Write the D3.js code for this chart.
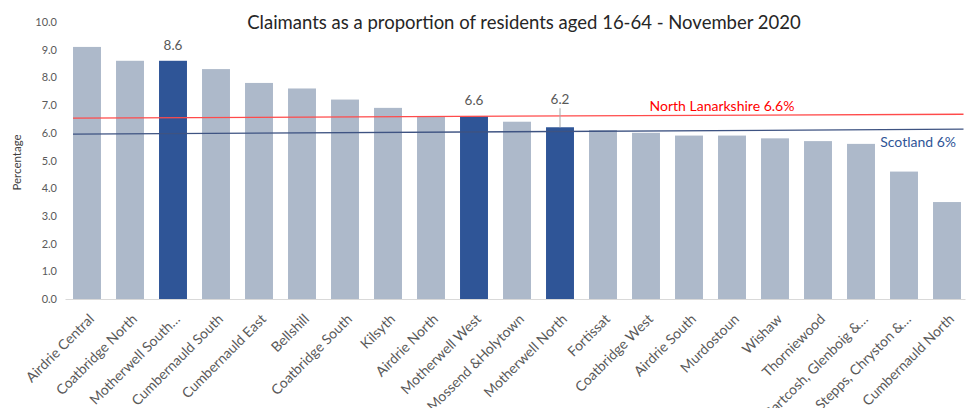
<!DOCTYPE html>
<html>
<head>
<meta charset="utf-8">
<script src="https://cdn.jsdelivr.net/npm/d3@7"></script>
<style>
  html, body { margin: 0; padding: 0; background: #fff; }
  svg { display: block; font-family: Lato, "Open Sans", sans-serif; }
</style>
</head>
<body>
<div id="chart"></div>
<script>
// 选区名称（与原图一致，含截断的标签）
const WARDS = [
  "Airdrie Central", "Coatbridge North", "Motherwell South…", "Cumbernauld South",
  "Cumbernauld East", "Bellshill", "Coatbridge South", "Kilsyth", "Airdrie North",
  "Motherwell West", "Mossend &Holytown", "Motherwell North", "Fortissat",
  "Coatbridge West", "Airdrie South", "Murdostoun", "Wishaw", "Thorniewood",
  "Gartcosh, Glenboig &…", "Stepps, Chryston &…", "Cumbernauld North",
];
// 申领人占 16-64 岁居民比例（%）
const RATES = [9.1, 8.6, 8.6, 8.3, 7.8, 7.6, 7.2, 6.9, 6.6, 6.6, 6.4, 6.2,
  6.1, 6.0, 5.9, 5.9, 5.8, 5.7, 5.6, 4.6, 3.5];
// 突出显示的选区
const HIGHLIGHT = ["Motherwell South…", "Motherwell West", "Motherwell North"];
// 参考线：起点 / 终点数值（原图中线略有倾斜）
const NL_LINE = [6.53, 6.67];
const SCOT_LINE = [5.95, 6.13];
const REF_LABELS = ["North Lanarkshire 6.6%", "Scotland 6%"];
const Y_TICKS = [0, 1, 2, 3, 4, 5, 6, 7, 8, 9, 10];

const W = 971, H = 408;
const svg = d3.select("#chart").append("svg").attr("width", W).attr("height", H);

const x = d3.scaleBand().domain(WARDS).range([65.5, 968.5])
  .paddingInner(0.35).paddingOuter(0.175);
const y = d3.scaleLinear().domain([0, 10]).range([299, 22]);

// 标题
svg.append("text").attr("x", 524).attr("y", 29).attr("text-anchor", "middle")
  .attr("fill", "#262626").attr("font-size", 18.5)
  .text("Claimants as a proportion of residents aged 16-64 - November 2020");

// y 轴（无轴线）
const gy = svg.append("g").attr("transform", "translate(57,0)")
  .call(d3.axisLeft(y).tickValues(Y_TICKS).tickFormat(d3.format(".1f")).tickSize(0).tickPadding(0));
gy.select(".domain").remove();
gy.selectAll("text").attr("fill", "#595959").attr("font-size", 11).attr("font-family", "Lato");

svg.append("text").attr("transform", `translate(21,${(y(0) + y(10)) / 2 + 2}) rotate(-90)`)
  .attr("text-anchor", "middle").attr("fill", "#404040").attr("font-size", 11.5)
  .text("Percentage");

// 柱
const data = WARDS.map((w, i) => ({ w, v: RATES[i], hi: HIGHLIGHT.includes(w) }));
svg.append("g").selectAll("rect").data(data).join("rect")
  .attr("x", d => x(d.w)).attr("width", x.bandwidth())
  .attr("y", d => y(d.v)).attr("height", d => y(0) - y(d.v))
  .attr("fill", d => d.hi ? "#2F5597" : "#ADB9CA");

// x 轴
const gx = svg.append("g").attr("transform", `translate(0,${y(0)})`)
  .call(d3.axisBottom(x).tickSize(0).tickPadding(0));
gx.select(".domain").attr("stroke", "#D9D9D9").attr("d", `M${x.range()[0]},0.5H${x.range()[1] - 3}`);
gx.selectAll(".tick text")
  .attr("text-anchor", "end").attr("dy", 0).attr("y", 0)
  .attr("transform", "translate(8,21) rotate(-45)")
  .attr("fill", "#595959").attr("font-size", 14).attr("font-family", "Lato");

// 参考线
const x0 = x(WARDS[0]), x1 = x.range()[1] - 5;
const refLine = d3.line().x((d, i) => i === 0 ? x0 : x1).y(d => y(d));
svg.append("path").datum(NL_LINE).attr("d", refLine)
  .attr("fill", "none").attr("stroke", "#FF4B4B").attr("stroke-width", 1.3);
svg.append("path").datum(SCOT_LINE).attr("d", refLine)
  .attr("fill", "none").attr("stroke", "#3E5382").attr("stroke-width", 1.3);
svg.append("text").attr("x", 722).attr("y", 111).attr("text-anchor", "middle")
  .attr("fill", "#FF0000").attr("font-size", 14).text(REF_LABELS[0]);
svg.append("text").attr("x", 956).attr("y", 147).attr("text-anchor", "end")
  .attr("fill", "#2F5597").attr("font-size", 14).text(REF_LABELS[1]);

// 数据标签（只标突出的柱），Motherwell North 带引导线
const lifted = { "Motherwell North": 12 };
data.filter(d => d.hi).forEach(d => {
  const cx = x(d.w) + x.bandwidth() / 2;
  const up = lifted[d.w] || 0;
  const ty = y(d.v) - 11 - up;
  svg.append("text").attr("x", cx).attr("y", ty).attr("text-anchor", "middle")
    .attr("fill", "#595959").attr("font-size", 13.5).text(d3.format(".1f")(d.v));
  if (up) {
    svg.append("line").attr("x1", cx).attr("x2", cx)
      .attr("y1", ty + 4).attr("y2", y(d.v))
      .attr("stroke", "#A6A6A6").attr("stroke-width", 1);
  }
});
</script>
</body>
</html>
